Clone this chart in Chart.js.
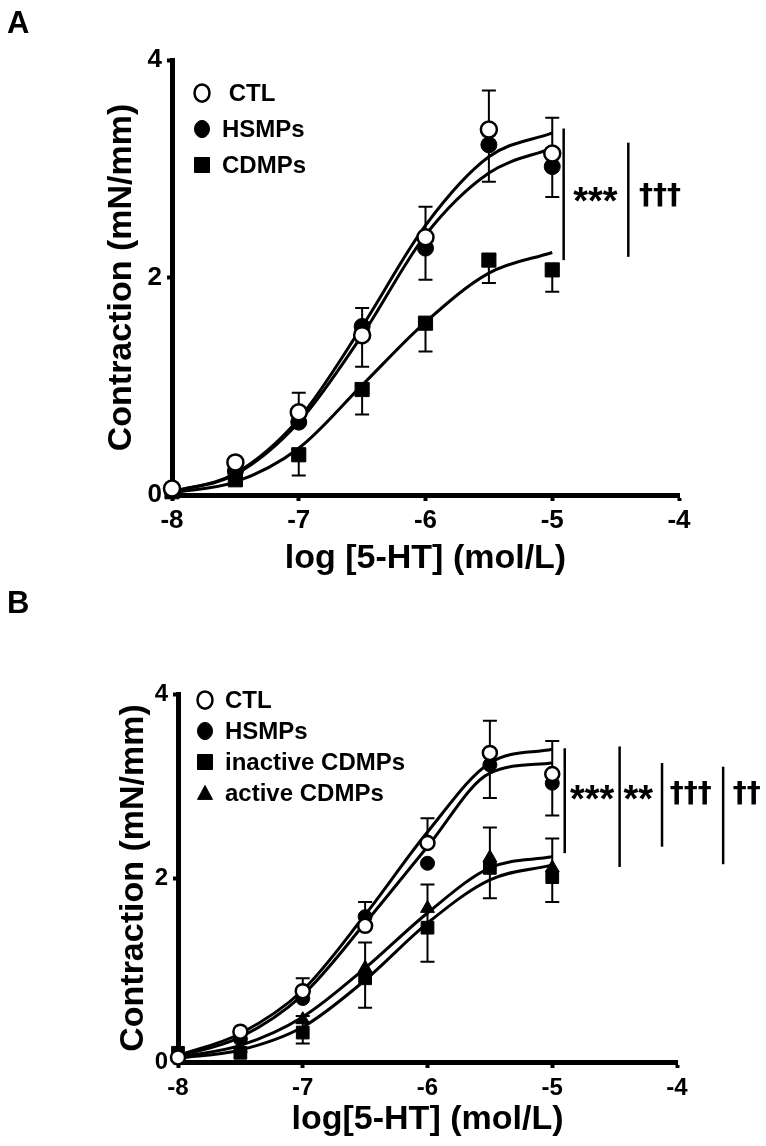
<!DOCTYPE html>
<html>
<head>
<meta charset="utf-8">
<title>5-HT concentration-response</title>
<script src="https://cdn.jsdelivr.net/npm/chart.js@4.4.1/dist/chart.umd.min.js"></script>
<style>
  body { margin: 0; background: #fff; width: 766px; height: 1146px; position: relative; overflow: hidden; }
  .panel { position: absolute; left: 0; width: 766px; }
  .letter { position: absolute; left: 7px; font: bold 31px "Liberation Sans", Arial, sans-serif; line-height: 1; }
</style>
</head>
<body>
<div class="panel" style="top:0;height:580px"><canvas id="chartA"></canvas></div>
<div class="panel" style="top:580px;height:566px"><canvas id="chartB"></canvas></div>
<div class="letter" style="top:7px">A</div>
<div class="letter" style="top:587px">B</div>
<script>
const FONT = '"Liberation Sans", Arial, Helvetica, sans-serif';

// log [5-HT] (mol/L) at which responses were measured
const logConc = [-8, -7.5, -7, -6.5, -6, -5.5, -5];
const xTicks = [-8, -7, -6, -5, -4];
const yTicks = [0, 2, 4];

// ── Panel A ──────────────────────────────────────────────
const ctlA  = [0.06, 0.30, 0.76, 1.47, 2.37, 3.36, 3.14];
const hsmpA = [0.04, 0.22, 0.67, 1.55, 2.27, 3.22, 3.02];
const cdmpA = [0.03, 0.14, 0.37, 0.97, 1.58, 2.16, 2.07];
// SEM bars (lower / upper end)
const ctlA_lo  = [null, null, 0.76, 1.18, 1.98, 2.88, 2.74];
const ctlA_hi  = [null, null, 0.94, 1.72, 2.65, 3.72, 3.47];
const cdmpA_lo = [null, null, 0.18, 0.74, 1.32, 1.95, 1.87];
const cdmpA_hi = [null, null, 0.37, 0.97, 1.58, 2.16, 2.07];
// fitted curves
const fitCtlA  = [0.03, 0.20, 0.70, 1.55, 2.48, 3.11, 3.33];
const fitHsmpA = [0.03, 0.19, 0.67, 1.47, 2.39, 2.96, 3.19];
const fitCdmpA = [0.02, 0.12, 0.43, 1.01, 1.59, 2.04, 2.23];

// ── Panel B ──────────────────────────────────────────────
const ctlB   = [0.05, 0.33, 0.77, 1.48, 2.38, 3.36, 3.13];
const hsmpB  = [0.05, 0.25, 0.69, 1.58, 2.16, 3.23, 3.03];
const inactB = [0.10, 0.10, 0.32, 0.91, 1.46, 2.11, 2.01];
const actB   = [0.06, 0.15, 0.46, 1.02, 1.67, 2.22, 2.11];
const ctlB_lo  = [null, null, 0.77, 1.48, 2.38, 2.87, 2.68];
const ctlB_hi  = [null, null, 0.91, 1.74, 2.65, 3.71, 3.49];
const cdmpB_lo = [null, null, 0.20, 0.59, 1.09, 1.78, 1.74];
const cdmpB_hi = [null, null, 0.50, 1.30, 1.93, 2.55, 2.43];
const fitCtlB   = [0.07, 0.31, 0.78, 1.60, 2.50, 3.25, 3.40];
const fitHsmpB  = [0.06, 0.27, 0.73, 1.51, 2.34, 3.14, 3.25];
const fitActB   = [0.05, 0.18, 0.49, 1.02, 1.62, 2.11, 2.23];
const fitInactB = [0.04, 0.13, 0.38, 0.89, 1.51, 1.98, 2.14];

// significance brackets (x, y range in data units) and their labels
const sigLinesA = [[-4.91, 2.16, 3.37], [-4.40, 2.19, 3.24]];
const sigTextA  = [[-4.66, 2.74, '***'], [-4.15, 2.74, '†††']];
const sigLinesB = [[-4.90, 2.27, 3.41], [-4.46, 2.12, 3.43], [-4.12, 2.34, 3.25], [-3.63, 2.15, 3.21]];
const sigTextB  = [[-4.68, 2.90, '***'], [-4.31, 2.90, '**'], [-3.89, 2.90, '†††'], [-3.44, 2.90, '††']];

const pts = ys => logConc.map((x, i) => ({ x, y: ys[i] }));

function curve(ys) {
    return { data: pts(ys), showLine: true, pointRadius: 0, borderColor: '#000', borderWidth: 3,
             cubicInterpolationMode: 'monotone', fill: false, clip: false, order: 10 };
}
function markers(ys, style, r, fillColor, order, lo, hi) {
    return { data: pts(ys), showLine: false, pointStyle: style, pointRadius: r,
             pointBackgroundColor: fillColor, pointBorderColor: '#000',
             pointBorderWidth: fillColor === '#fff' ? 2.5 : 1, clip: false, order, errLo: lo, errHi: hi };
}

// error bars drawn underneath the markers
const errorBars = {
    id: 'errorBars',
    beforeDatasetsDraw(chart, args, opts) {
        const { ctx, scales: { x, y } } = chart;
        ctx.save();
        ctx.strokeStyle = '#000';
        ctx.lineWidth = opts.width;
        chart.data.datasets.forEach(ds => {
            if (!ds.errLo) return;
            ds.data.forEach((p, i) => {
                const lo = ds.errLo[i], hi = ds.errHi[i];
                if (lo == null) return;
                const px = x.getPixelForValue(p.x);
                const y0 = y.getPixelForValue(lo), y1 = y.getPixelForValue(hi);
                ctx.beginPath();
                ctx.moveTo(px, y0); ctx.lineTo(px, y1);
                if (lo < p.y - 0.01) { ctx.moveTo(px - opts.cap, y0); ctx.lineTo(px + opts.cap, y0); }
                if (hi > p.y + 0.01) { ctx.moveTo(px - opts.cap, y1); ctx.lineTo(px + opts.cap, y1); }
                ctx.stroke();
            });
        });
        ctx.restore();
    }
};

// significance lines + symbols right of the curves
const sigMarks = {
    id: 'sigMarks',
    afterDraw(chart, args, opts) {
        const { ctx, scales: { x, y } } = chart;
        ctx.save();
        ctx.strokeStyle = '#000';
        ctx.lineWidth = opts.lineWidth;
        opts.lines.forEach(([xv, a, b]) => {
            const px = x.getPixelForValue(xv);
            ctx.beginPath();
            ctx.moveTo(px, y.getPixelForValue(a));
            ctx.lineTo(px, y.getPixelForValue(b));
            ctx.stroke();
        });
        ctx.fillStyle = '#000';
        ctx.textAlign = 'center';
        ctx.textBaseline = 'middle';
        opts.texts.forEach(([xv, yv, t]) => {
            const star = t.includes('*');
            ctx.font = star ? `bold ${opts.starSize}px ${FONT}` : `bold ${opts.daggerSize}px "DejaVu Sans", sans-serif`;
            ctx.fillText(t, x.getPixelForValue(xv), y.getPixelForValue(yv) + (star ? opts.starShift : 0));
        });
        ctx.restore();
    }
};

// legend inside the plot, top-left
const plotLegend = {
    id: 'plotLegend',
    afterDraw(chart, args, opts) {
        const { ctx, chartArea } = chart;
        ctx.save();
        ctx.font = `bold ${opts.fontSize}px ${FONT}`;
        ctx.textBaseline = 'middle';
        ctx.textAlign = 'left';
        opts.items.forEach(([label, style, fillColor], i) => {
            const cx = chartArea.left + opts.dx;
            const cy = chartArea.top + opts.dy + i * opts.step;
            const r = opts.size / 2;
            ctx.beginPath();
            if (style === 'circle') ctx.ellipse(cx, cy, r, r * 1.15, 0, 0, Math.PI * 2);
            else if (style === 'rect') ctx.rect(cx - r, cy - r, 2 * r, 2 * r);
            else { ctx.moveTo(cx, cy - r); ctx.lineTo(cx + r, cy + r * 0.85); ctx.lineTo(cx - r, cy + r * 0.85); ctx.closePath(); }
            ctx.fillStyle = fillColor;
            ctx.fill();
            ctx.lineWidth = fillColor === '#fff' ? 2.5 : 1;
            ctx.strokeStyle = '#000';
            ctx.stroke();
            ctx.fillStyle = '#000';
            ctx.fillText(label, cx + opts.textGap, cy + 1);
        });
        ctx.restore();
    }
};

function makeChart(id, p) {
    const axisFont = { family: FONT, weight: 'bold', size: p.tickSize };
    const titleFont = { family: FONT, weight: 'bold', size: 34 };
    return new Chart(document.getElementById(id), {
        type: 'scatter',
        data: { datasets: p.datasets },
        plugins: [errorBars, sigMarks, plotLegend],
        options: {
            responsive: true, maintainAspectRatio: false, animation: false,
            layout: { padding: { top: p.padTop, right: p.padRight, left: 0, bottom: 0 } },
            plugins: {
                legend: { display: false }, tooltip: { enabled: false },
                errorBars: { cap: p.cap, width: 2 },
                sigMarks: { lines: p.sigLines, texts: p.sigTexts, lineWidth: 2.5, starSize: 38, daggerSize: 28, starShift: 6 },
                plotLegend: p.legend
            },
            scales: {
                x: {
                    type: 'linear', min: -8, max: -4,
                    afterBuildTicks: s => { s.ticks = xTicks.map(v => ({ value: v })); },
                    afterFit: s => { s.height = p.xAxisHeight; },
                    grid: { drawOnChartArea: false, drawTicks: true, tickLength: 6, tickWidth: 4, tickColor: '#000' },
                    border: { display: true, color: '#000', width: 5 },
                    ticks: { color: '#000', font: axisFont, padding: p.xTickPad, maxRotation: 0 },
                    title: { display: true, text: p.xTitle, color: '#000', font: titleFont, padding: { top: 0, bottom: p.xTitlePad } }
                },
                y: {
                    min: 0, max: 4,
                    afterBuildTicks: s => { s.ticks = yTicks.map(v => ({ value: v })); },
                    afterFit: s => { s.width = p.yAxisWidth; },
                    grid: { drawOnChartArea: false, drawTicks: true, tickLength: 5, tickWidth: 4, tickColor: '#000' },
                    border: { display: true, color: '#000', width: 5 },
                    ticks: { color: '#000', font: axisFont, padding: 5 },
                    title: { display: true, text: 'Contraction (mN/mm)', color: '#000', font: titleFont, padding: { top: p.yTitlePad, bottom: 0 } }
                }
            }
        }
    });
}

makeChart('chartA', {
    padTop: 60, padRight: 87, yAxisWidth: 172, xAxisHeight: 85,
    tickSize: 26, xTickPad: 4, xTitlePad: 1, yTitlePad: 101, cap: 7,
    xTitle: 'log [5-HT] (mol/L)',
    datasets: [
        curve(fitCtlA), curve(fitHsmpA), curve(fitCdmpA),
        markers(cdmpA, 'rect', 10, '#000', 3, cdmpA_lo, cdmpA_hi),
        markers(hsmpA, 'circle', 8, '#000', 2),
        markers(ctlA, 'circle', 8, '#fff', 1, ctlA_lo, ctlA_hi)
    ],
    sigLines: sigLinesA, sigTexts: sigTextA,
    legend: { dx: 30, dy: 33, step: 36, size: 15, textGap: 20, fontSize: 24,
              items: [[' CTL', 'circle', '#fff'], ['HSMPs', 'circle', '#000'], ['CDMPs', 'rect', '#000']] }
});

makeChart('chartB', {
    padTop: 114, padRight: 89, yAxisWidth: 178, xAxisHeight: 84,
    tickSize: 24, xTickPad: 6, xTitlePad: 6, yTitlePad: 113, cap: 7,
    xTitle: 'log[5-HT] (mol/L)',
    datasets: [
        curve(fitCtlB), curve(fitHsmpB), curve(fitActB), curve(fitInactB),
        markers(inactB, 'rect', 9, '#000', 4, cdmpB_lo, cdmpB_hi),
        markers(actB, 'triangle', 8, '#000', 3),
        markers(hsmpB, 'circle', 7, '#000', 2),
        markers(ctlB, 'circle', 7, '#fff', 1, ctlB_lo, ctlB_hi)
    ],
    sigLines: sigLinesB, sigTexts: sigTextB,
    legend: { dx: 27, dy: 6, step: 31, size: 15, textGap: 20, fontSize: 24,
              items: [['CTL', 'circle', '#fff'], ['HSMPs', 'circle', '#000'], ['inactive CDMPs', 'rect', '#000'], ['active CDMPs', 'triangle', '#000']] }
});
</script>
</body>
</html>
